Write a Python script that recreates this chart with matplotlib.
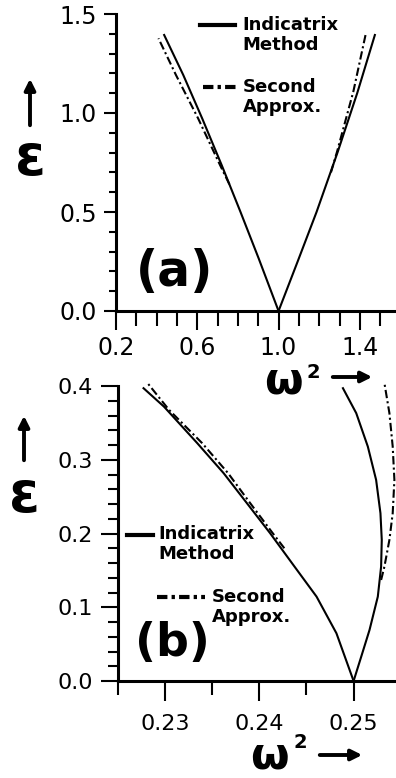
import matplotlib
matplotlib.use("Agg")
import matplotlib.pyplot as plt
from matplotlib.lines import Line2D
from matplotlib.patches import FancyArrowPatch
from matplotlib.ticker import MultipleLocator, FixedLocator, FormatStrFormatter

W, H = 396, 778

# (a) tongue around w^2 = 1
a_ind_left_eps = [0.0, 0.266, 0.502, 0.737, 0.973, 1.192, 1.394]
a_ind_left_w2 = [1.0, 0.902, 0.812, 0.720, 0.624, 0.531, 0.437]
a_ind_right_eps = [0.0, 0.25, 0.5, 0.8, 1.1, 1.394]
a_ind_right_w2 = [1.0, 1.094, 1.187, 1.290, 1.387, 1.474]
a_sec_left_eps = [0.64, 0.737, 0.973, 1.192, 1.377]
a_sec_left_w2 = [0.758, 0.712, 0.604, 0.495, 0.409]
a_sec_right_eps = [0.70, 0.805, 1.108, 1.394]
a_sec_right_w2 = [1.258, 1.288, 1.368, 1.428]

# (b) tongue around w^2 = 0.25
b_ind_left_eps = [0.0, 0.0647, 0.1144, 0.1574, 0.2004, 0.2411, 0.2818, 0.3225, 0.372, 0.397]
b_ind_left_w2 = [0.25, 0.24818, 0.24607, 0.24360, 0.24114, 0.23868, 0.23621, 0.23341, 0.22988, 0.22771]
b_ind_right_eps = [0.0, 0.033, 0.0692, 0.1144, 0.1551, 0.1913, 0.2275, 0.2727, 0.3179, 0.3632, 0.397]
b_ind_right_w2 = [0.25, 0.25081, 0.25169, 0.25257, 0.25292, 0.25299, 0.25285, 0.25239, 0.25151, 0.25028, 0.24887]
b_sec_left_eps = [0.18, 0.2004, 0.2411, 0.2818, 0.3225, 0.3677, 0.404]
b_sec_left_w2 = [0.24265, 0.24142, 0.23903, 0.23668, 0.23393, 0.23041, 0.22813]
b_sec_right_eps = [0.137, 0.1551, 0.1913, 0.2275, 0.2727, 0.3179, 0.3632, 0.404]
b_sec_right_w2 = [0.25292, 0.25327, 0.25380, 0.25415, 0.25433, 0.25415, 0.25380, 0.25327]

LW = 1.5
DASHDOT = (4, 1.5, 1, 1.5)


def fx(x):
    return x / W


def fy(y):
    return 1 - y / H


def style_axes(ax):
    for side in ("top", "right"):
        ax.spines[side].set_visible(False)
    for side in ("left", "bottom"):
        ax.spines[side].set_linewidth(2.2)
    ax.tick_params(which="both", direction="out", width=1.5, top=False, right=False)


def curve(ax, w2, eps, dashed=False):
    line, = ax.plot(w2, eps, color="k", lw=LW, clip_on=False)
    if dashed:
        line.set_dashes(DASHDOT)


def legend_block(fig, solid_xy, solid_text_xy, dash_xy, dash_text_xy, size):
    fig.add_artist(Line2D([fx(solid_xy[0]), fx(solid_xy[1])], [fy(solid_xy[2])] * 2,
                          color="k", lw=3))
    fig.text(fx(solid_text_xy[0]), fy(solid_text_xy[1]), "Indicatrix\nMethod",
             fontsize=size, fontweight="bold", va="top", ha="left", linespacing=1.15)
    dash = Line2D([fx(dash_xy[0]), fx(dash_xy[1])], [fy(dash_xy[2])] * 2, color="k", lw=3)
    dash.set_dashes((2.5, 1, 0.8, 1))
    fig.add_artist(dash)
    fig.text(fx(dash_text_xy[0]), fy(dash_text_xy[1]), "Second\nApprox.",
             fontsize=size, fontweight="bold", va="top", ha="left", linespacing=1.15)


def arrow(fig, start, end):
    fig.add_artist(FancyArrowPatch(
        (fx(start[0]), fy(start[1])), (fx(end[0]), fy(end[1])),
        transform=fig.transFigure, arrowstyle="-|>", mutation_scale=16,
        lw=2.8, color="k"))


def omega_label(fig, cx, cy, sx, sy, arrow_x0, arrow_x1, arrow_y):
    fig.text(fx(cx), fy(cy), "ω", fontsize=32, fontweight="bold", ha="center", va="center")
    fig.text(fx(sx), fy(sy), "2", fontsize=14, fontweight="bold", ha="center", va="center")
    arrow(fig, (arrow_x0, arrow_y), (arrow_x1, arrow_y))


def eps_label(fig, cx, cy, arrow_y0, arrow_y1):
    fig.text(fx(cx), fy(cy), "ε", fontsize=40, fontweight="bold", ha="center", va="center")
    arrow(fig, (cx, arrow_y0), (cx, arrow_y1))


fig = plt.figure(figsize=(W / 100, H / 100), dpi=100)

# panel (a)
ax_a = fig.add_axes([fx(116), fy(311), 1 - fx(116), (311 - 14) / H])
style_axes(ax_a)
ax_a.set_xlim(0.2, 1.578)
ax_a.set_ylim(0, 1.5)
ax_a.xaxis.set_major_locator(FixedLocator([0.2, 0.6, 1.0, 1.4]))
ax_a.xaxis.set_minor_locator(MultipleLocator(0.1))
ax_a.yaxis.set_major_locator(MultipleLocator(0.5))
ax_a.yaxis.set_minor_locator(MultipleLocator(0.1))
ax_a.xaxis.set_major_formatter(FormatStrFormatter("%.1f"))
ax_a.yaxis.set_major_formatter(FormatStrFormatter("%.1f"))
ax_a.tick_params(axis="x", which="major", length=14, pad=4, labelsize=17)
ax_a.tick_params(axis="x", which="minor", length=11)
ax_a.tick_params(axis="y", which="major", length=8.6, pad=5, labelsize=17)
ax_a.tick_params(axis="y", which="minor", length=5)

curve(ax_a, a_ind_left_w2, a_ind_left_eps)
curve(ax_a, a_ind_right_w2, a_ind_right_eps)
curve(ax_a, a_sec_left_w2, a_sec_left_eps, dashed=True)
curve(ax_a, a_sec_right_w2, a_sec_right_eps, dashed=True)

fig.text(fx(175), fy(272), "(a)", fontsize=35, fontweight="bold", ha="center", va="center")
legend_block(fig, (200, 235, 25), (242, 16), (203, 237, 87), (243, 78), 13)
eps_label(fig, 30, 160, 128, 76)
omega_label(fig, 283, 381, 313, 373, 330, 375, 377)

# panel (b)
ax_b = fig.add_axes([fx(118), fy(681), 1 - fx(118), (681 - 386) / H])
style_axes(ax_b)
ax_b.set_xlim(0.225, 0.2545)
ax_b.set_ylim(0, 0.4)
ax_b.xaxis.set_major_locator(FixedLocator([0.23, 0.24, 0.25]))
ax_b.xaxis.set_minor_locator(FixedLocator([0.225, 0.235, 0.245]))
ax_b.yaxis.set_major_locator(MultipleLocator(0.1))
ax_b.yaxis.set_minor_locator(MultipleLocator(0.02))
ax_b.xaxis.set_major_formatter(FormatStrFormatter("%.2f"))
ax_b.yaxis.set_major_formatter(FormatStrFormatter("%.1f"))
ax_b.tick_params(axis="x", which="major", length=14.5, pad=9, labelsize=16)
ax_b.tick_params(axis="x", which="minor", length=10)
ax_b.tick_params(axis="y", which="major", length=12, pad=6, labelsize=16)
ax_b.tick_params(axis="y", which="minor", length=7)

curve(ax_b, b_ind_left_w2, b_ind_left_eps)
curve(ax_b, b_ind_right_w2, b_ind_right_eps)
curve(ax_b, b_sec_left_w2, b_sec_left_eps, dashed=True)
curve(ax_b, b_sec_right_w2, b_sec_right_eps, dashed=True)

fig.text(fx(172), fy(643), "(b)", fontsize=33, fontweight="bold", ha="center", va="center")
legend_block(fig, (127, 153, 535), (158, 525), (157, 205, 597), (212, 588), 13)
eps_label(fig, 24, 497, 463, 413)
omega_label(fig, 269, 756, 300, 743, 317, 365, 755)

fig.savefig("out.png", dpi=100)
